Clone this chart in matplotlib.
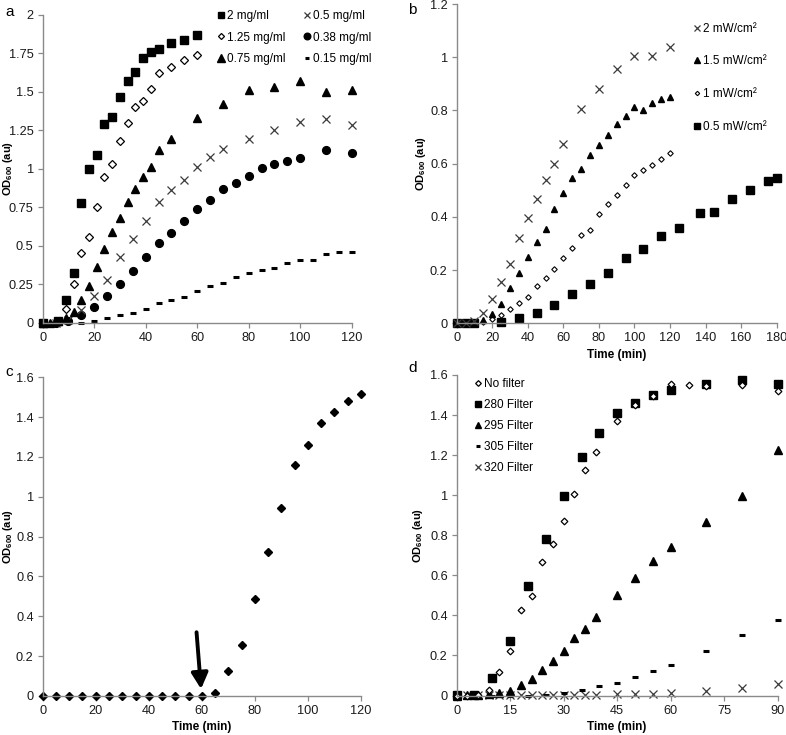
import matplotlib
matplotlib.use("Agg")
import matplotlib.pyplot as plt

plt.rcParams['font.family'] = ['Liberation Sans', 'DejaVu Sans']
plt.rcParams['mathtext.fontset'] = 'custom'
plt.rcParams['mathtext.rm'] = 'Liberation Sans'
plt.rcParams['mathtext.bf'] = 'Liberation Sans:bold'

# panel a - concentration series
a_t_2 = [0, 6, 9, 12, 15, 18, 21, 24, 27, 30, 33, 36, 39, 42, 45, 50, 55, 60]
a_y_2 = [0, 0.01, 0.15, 0.32, 0.78, 1.0, 1.09, 1.29, 1.34, 1.47, 1.57, 1.63, 1.72, 1.76, 1.78, 1.82, 1.84, 1.87]
a_t_125 = [0, 6, 9, 12, 15, 18, 21, 24, 27, 30, 33, 36, 39, 42, 45, 50, 55, 60]
a_y_125 = [0, 0.01, 0.09, 0.25, 0.45, 0.56, 0.75, 0.95, 1.03, 1.18, 1.30, 1.40, 1.44, 1.52, 1.62, 1.66, 1.71, 1.74]
a_t_075 = [0, 3, 6, 9, 12, 15, 18, 21, 24, 27, 30, 33, 36, 39, 42, 45, 50, 60, 70, 80, 90, 100, 110, 120]
a_y_075 = [0, 0, 0.01, 0.03, 0.07, 0.15, 0.24, 0.365, 0.477, 0.587, 0.683, 0.782, 0.871, 0.947, 1.01, 1.12, 1.196,
           1.33, 1.424, 1.512, 1.53, 1.573, 1.50, 1.51]
a_t_05 = [0, 5, 10, 15, 20, 25, 30, 35, 40, 45, 50, 55, 60, 65, 70, 80, 90, 100, 110, 120]
a_y_05 = [0, 0, 0.02, 0.083, 0.173, 0.28, 0.43, 0.542, 0.663, 0.782, 0.862, 0.927, 1.01, 1.079, 1.131, 1.192,
          1.252, 1.307, 1.326, 1.287]
a_t_038 = [0, 5, 10, 15, 20, 25, 30, 35, 40, 45, 50, 55, 60, 65, 70, 75, 80, 85, 90, 95, 100, 110, 120]
a_y_038 = [0, 0, 0.01, 0.05, 0.10, 0.173, 0.25, 0.338, 0.425, 0.516, 0.585, 0.659, 0.741, 0.797, 0.871, 0.91,
           0.953, 1.005, 1.031, 1.053, 1.07, 1.122, 1.105]
a_t_015 = [15, 20, 25, 30, 35, 40, 45, 50, 55, 60, 65, 70, 75, 80, 85, 90, 95, 100, 105, 110, 115, 120]
a_y_015 = [0, 0.01, 0.03, 0.05, 0.065, 0.09, 0.125, 0.145, 0.17, 0.205, 0.24, 0.26, 0.295, 0.325, 0.345,
           0.355, 0.39, 0.41, 0.41, 0.445, 0.46, 0.46]

# panel b - intensity series
b_t_2 = [0, 5, 10, 15, 20, 25, 30, 35, 40, 45, 50, 55, 60, 70, 80, 90, 100, 110, 120]
b_y_2 = [0, 0, 0.01, 0.04, 0.09, 0.155, 0.223, 0.32, 0.397, 0.467, 0.537, 0.598, 0.674, 0.806, 0.88, 0.955,
         1.005, 1.005, 1.04]
b_t_15 = list(range(0, 121, 5))
b_y_15 = [0, 0, 0, 0.013, 0.035, 0.071, 0.134, 0.188, 0.25, 0.307, 0.355, 0.429, 0.489, 0.548, 0.581, 0.633,
          0.67, 0.708, 0.749, 0.779, 0.814, 0.802, 0.829, 0.842, 0.85]
b_t_1 = list(range(0, 121, 5))
b_y_1 = [0, 0, 0, 0.006, 0.015, 0.03, 0.053, 0.075, 0.10, 0.14, 0.172, 0.203, 0.244, 0.282, 0.332, 0.35,
         0.41, 0.447, 0.483, 0.52, 0.557, 0.578, 0.595, 0.617, 0.641]
b_t_05 = [0, 5, 10, 25, 35, 45, 55, 65, 75, 85, 95, 105, 115, 125, 137, 145, 155, 165, 175, 180]
b_y_05 = [0, 0, 0, 0.005, 0.02, 0.04, 0.07, 0.11, 0.147, 0.19, 0.247, 0.278, 0.33, 0.36, 0.415, 0.42,
          0.466, 0.50, 0.535, 0.547]

# panel c - single culture
c_t = list(range(0, 121, 5))
c_y = [0] * 13 + [0.013, 0.126, 0.256, 0.489, 0.721, 0.946, 1.16, 1.262, 1.369, 1.428, 1.481, 1.515]
c_arrow_t = 60

# panel d - filters
d_t_none = [0, 3, 6, 9, 12, 15, 18, 21, 24, 27, 30, 33, 36, 39, 45, 50, 55, 60, 65, 70, 80, 90]
d_y_none = [0, 0, 0.005, 0.028, 0.117, 0.223, 0.428, 0.495, 0.665, 0.758, 0.869, 1.008, 1.127, 1.216, 1.369,
            1.449, 1.494, 1.556, 1.548, 1.544, 1.55, 1.522]
d_t_280 = [0, 5, 10, 15, 20, 25, 30, 35, 40, 45, 50, 55, 60, 70, 80, 90]
d_y_280 = [0.005, 0.005, 0.088, 0.273, 0.548, 0.78, 0.994, 1.19, 1.311, 1.411, 1.458, 1.498, 1.524, 1.556,
           1.574, 1.556]
d_t_295 = [0, 3, 6, 9, 12, 15, 18, 21, 24, 27, 30, 33, 36, 39, 45, 50, 55, 60, 70, 80, 90]
d_y_295 = [0, 0.003, 0.005, 0.007, 0.012, 0.023, 0.053, 0.082, 0.128, 0.173, 0.223, 0.287, 0.333, 0.392, 0.5,
           0.587, 0.67, 0.74, 0.864, 0.998, 1.228]
d_t_305 = [0, 5, 10, 15, 20, 25, 30, 35, 40, 45, 50, 55, 60, 70, 80, 90]
d_y_305 = [0, 0, 0, 0, 0, 0.005, 0.012, 0.027, 0.047, 0.065, 0.093, 0.12, 0.153, 0.22, 0.3, 0.378]
d_t_320 = [0, 3, 6, 9, 12, 15, 18, 21, 24, 27, 30, 33, 36, 39, 45, 50, 55, 60, 70, 80, 90]
d_y_320 = [0, 0.003, 0.003, 0.003, 0.003, 0.003, 0.003, 0.003, 0.003, 0.003, 0.003, 0.003, 0.003, 0.003,
           0.007, 0.008, 0.008, 0.012, 0.023, 0.04, 0.058]

a_xticks = [0, 20, 40, 60, 80, 100, 120]
a_yticks = [0, 0.25, 0.5, 0.75, 1, 1.25, 1.5, 1.75, 2]
b_xticks = [0, 20, 40, 60, 80, 100, 120, 140, 160, 180]
b_yticks = [0, 0.2, 0.4, 0.6, 0.8, 1, 1.2]
c_xticks = [0, 20, 40, 60, 80, 100, 120]
c_yticks = [0, 0.2, 0.4, 0.6, 0.8, 1, 1.2, 1.4, 1.6]
d_xticks = [0, 15, 30, 45, 60, 75, 90]
d_yticks = [0, 0.2, 0.4, 0.6, 0.8, 1, 1.2, 1.4, 1.6]

YLABEL = r'$\mathbf{OD}_{\mathbf{600}}$ (au)'
SPINE = '#8a8a8a'
XGREY = '#3a3a3a'


def fmt(v):
    return ('%g' % v)


def style_axes(ax, xticks, yticks, ylab_x, xlabel=True):
    ax.set_xlim(xticks[0], xticks[-1])
    ax.set_ylim(yticks[0], yticks[-1])
    ax.set_xticks(xticks)
    ax.set_yticks(yticks)
    ax.set_xticklabels([fmt(v) for v in xticks])
    ax.set_yticklabels([fmt(v) for v in yticks])
    for s in ['top', 'right']:
        ax.spines[s].set_visible(False)
    for s in ['left', 'bottom']:
        ax.spines[s].set_color(SPINE)
        ax.spines[s].set_linewidth(1.0)
    ax.tick_params(direction='out', length=3.5, width=0.9, color=SPINE, labelsize=9.2,
                   labelcolor='#1a1a1a', pad=3)
    ax.set_ylabel(YLABEL, fontsize=8, fontweight='bold')
    # label anchor is its right edge, so place it close to the tick labels
    ax.yaxis.set_label_coords(ylab_x, 0.5)
    if xlabel:
        ax.set_xlabel('Time (min)', fontsize=8.5, fontweight='bold', labelpad=3)


def pts(ax, t, y, marker, ms, label=None, filled=True, color='black', mew=1.0):
    ax.plot(t, y, linestyle='none', marker=marker, ms=ms, color=color,
            mfc=color if filled else 'white', mec=color, mew=mew, label=label, clip_on=False)


fig = plt.figure(figsize=(7.86, 7.35), dpi=100)

ax_a = fig.add_axes([0.0543, 0.561, 0.3931, 0.4186])
ax_b = fig.add_axes([0.581, 0.5601, 0.4071, 0.4344])
ax_c = fig.add_axes([0.0543, 0.0531, 0.405, 0.4336])
ax_d = fig.add_axes([0.581, 0.0537, 0.4084, 0.4361])

# --- a
pts(ax_a, a_t_038, a_y_038, 'o', 5.6, '0.38 mg/ml')
pts(ax_a, a_t_015, a_y_015, '_', 4, '0.15 mg/ml', mew=2.2)
pts(ax_a, a_t_05, a_y_05, 'x', 5.5, '0.5 mg/ml', color=XGREY, mew=0.9)
pts(ax_a, a_t_075, a_y_075, '^', 6, '0.75 mg/ml')
pts(ax_a, a_t_125, a_y_125, 'D', 3.6, '1.25 mg/ml', filled=False, mew=0.9)
pts(ax_a, a_t_2, a_y_2, 's', 5.5, '2 mg/ml')
style_axes(ax_a, a_xticks, a_yticks, -0.088, xlabel=False)
h, l = ax_a.get_legend_handles_labels()
order = ['2 mg/ml', '1.25 mg/ml', '0.75 mg/ml', '0.5 mg/ml', '0.38 mg/ml', '0.15 mg/ml']
hs = [h[l.index(o)] for o in order]
ax_a.legend(hs, order, ncol=2, loc='upper left', bbox_to_anchor=(0.545, 1.035), frameon=False,
            fontsize=8.5, handlelength=0.7, handletextpad=0.15, columnspacing=1.5,
            labelspacing=0.8, borderpad=0, markerscale=0.85)

# --- b
pts(ax_b, b_t_05, b_y_05, 's', 5.2, '0.5 mW/cm²')
pts(ax_b, b_t_1, b_y_1, 'D', 2.8, '1 mW/cm²', filled=False, mew=0.8)
pts(ax_b, b_t_15, b_y_15, '^', 5, '1.5 mW/cm²')
pts(ax_b, b_t_2, b_y_2, 'x', 5.5, '2 mW/cm²', color=XGREY, mew=0.9)
style_axes(ax_b, b_xticks, b_yticks, -0.09)
h, l = ax_b.get_legend_handles_labels()
ax_b.legend(h[::-1], l[::-1], loc='upper left', bbox_to_anchor=(0.72, 0.96), frameon=False,
            fontsize=8.5, handlelength=0.7, handletextpad=0.15, labelspacing=1.75, borderpad=0,
            markerscale=0.8)

# --- c
pts(ax_c, c_t, c_y, 'D', 3.6)
style_axes(ax_c, c_xticks, c_yticks, -0.086)
ax_c.annotate('', xy=(c_arrow_t - 0.3, 0.035), xytext=(c_arrow_t - 2, 0.32),
              arrowprops=dict(arrowstyle='-|>,head_length=0.95,head_width=0.5', lw=2.8, color='black',
                              shrinkA=0, shrinkB=0))

# --- d
pts(ax_d, d_t_320, d_y_320, 'x', 5.5, '320 Filter', color=XGREY, mew=0.9)
pts(ax_d, d_t_305, d_y_305, '_', 4, '305 Filter', mew=2.2)
pts(ax_d, d_t_295, d_y_295, '^', 5.8, '295 Filter')
pts(ax_d, d_t_280, d_y_280, 's', 5.5, '280 Filter')
pts(ax_d, d_t_none, d_y_none, 'D', 3.4, 'No filter', filled=False, mew=0.9)
style_axes(ax_d, d_xticks, d_yticks, -0.1)
h, l = ax_d.get_legend_handles_labels()
ax_d.legend(h[::-1], l[::-1], loc='upper left', bbox_to_anchor=(0.036, 1.008), frameon=False,
            fontsize=8.5, handlelength=0.7, handletextpad=0.15, labelspacing=0.75, borderpad=0,
            markerscale=0.85)

# panel letters
fig.text(5 / 786, 1 - 12 / 735, 'a', fontsize=11, va='center')
fig.text(408 / 786, 1 - 10 / 735, 'b', fontsize=11, va='center')
fig.text(5 / 786, 1 - 372 / 735, 'c', fontsize=11, va='center')
fig.text(408 / 786, 1 - 368 / 735, 'd', fontsize=11, va='center')

fig.savefig('out.png', dpi=100)
